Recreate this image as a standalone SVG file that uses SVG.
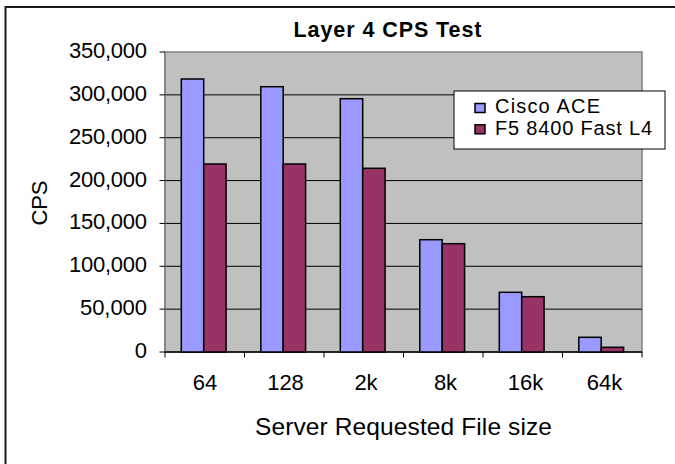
<svg xmlns="http://www.w3.org/2000/svg" width="675" height="464" viewBox="0 0 675 464">
<style>
text{font-family:"Liberation Sans",Arial,sans-serif;fill:#000}
.yl{font-size:22px;text-anchor:end}
.xl{font-size:22px;text-anchor:middle}
.grid{stroke:#000;stroke-width:1}
.tick{stroke:#000;stroke-width:1}
.b1{fill:#9999FF;stroke:#000;stroke-width:1.5}
.b2{fill:#993366;stroke:#000;stroke-width:1.5}
</style>
<rect x="0" y="0" width="675" height="464" fill="#fff"/>
<rect x="5.5" y="7" width="680" height="470" fill="#fff" stroke="#1a1a1a" stroke-width="2"/>
<g id="title"><text x="387.5" y="36.5" font-size="21.5" font-weight="bold" text-anchor="middle" textLength="188" lengthAdjust="spacing">Layer 4 CPS Test</text></g>
<g id="plot">
<rect x="165" y="52" width="477" height="300" fill="#C0C0C0" stroke="#808080" stroke-width="1.5"/>
<g class="grid">
<line x1="165" y1="94.86" x2="642" y2="94.86"/>
<line x1="165" y1="137.71" x2="642" y2="137.71"/>
<line x1="165" y1="180.57" x2="642" y2="180.57"/>
<line x1="165" y1="223.43" x2="642" y2="223.43"/>
<line x1="165" y1="266.29" x2="642" y2="266.29"/>
<line x1="165" y1="309.14" x2="642" y2="309.14"/>
</g>
</g>
<g id="axes">
<line x1="165" y1="52" x2="165" y2="352" stroke="#808080" stroke-width="1.5"/>
<line x1="165" y1="352" x2="642" y2="352" stroke="#000" stroke-width="1.5"/>
<g class="tick">
<line x1="159.5" y1="52" x2="165" y2="52"/>
<line x1="159.5" y1="94.86" x2="165" y2="94.86"/>
<line x1="159.5" y1="137.71" x2="165" y2="137.71"/>
<line x1="159.5" y1="180.57" x2="165" y2="180.57"/>
<line x1="159.5" y1="223.43" x2="165" y2="223.43"/>
<line x1="159.5" y1="266.29" x2="165" y2="266.29"/>
<line x1="159.5" y1="309.14" x2="165" y2="309.14"/>
<line x1="159.5" y1="352" x2="165" y2="352"/>
<line x1="165" y1="352" x2="165" y2="357.5"/>
<line x1="244.5" y1="352" x2="244.5" y2="357.5"/>
<line x1="324" y1="352" x2="324" y2="357.5"/>
<line x1="403.5" y1="352" x2="403.5" y2="357.5"/>
<line x1="483" y1="352" x2="483" y2="357.5"/>
<line x1="562.5" y1="352" x2="562.5" y2="357.5"/>
<line x1="642" y1="352" x2="642" y2="357.5"/>
</g>
<text class="yl" x="147" y="58" textLength="78" lengthAdjust="spacing">350,000</text>
<text class="yl" x="147" y="100.9" textLength="78" lengthAdjust="spacing">300,000</text>
<text class="yl" x="147" y="143.7" textLength="78" lengthAdjust="spacing">250,000</text>
<text class="yl" x="147" y="186.6" textLength="78" lengthAdjust="spacing">200,000</text>
<text class="yl" x="147" y="229.4" textLength="78" lengthAdjust="spacing">150,000</text>
<text class="yl" x="147" y="272.3" textLength="78" lengthAdjust="spacing">100,000</text>
<text class="yl" x="147" y="315.1" textLength="67" lengthAdjust="spacing">50,000</text>
<text class="yl" x="147" y="358">0</text>
<text class="xl" x="205" y="390">64</text>
<text class="xl" x="285.5" y="390">128</text>
<text class="xl" x="366" y="390">2k</text>
<text class="xl" x="445.5" y="390">8k</text>
<text class="xl" x="525.5" y="390">16k</text>
<text class="xl" x="604.5" y="390">64k</text>
<text x="403.5" y="435" font-size="24.5" text-anchor="middle" textLength="297" lengthAdjust="spacing">Server Requested File size</text>
<text transform="translate(46.5,203) rotate(-90)" font-size="22" text-anchor="middle" textLength="45" lengthAdjust="spacing">CPS</text>
</g>
<g id="series-cisco">
<rect class="b1" x="181.3" y="79" width="22.4" height="273"/>
<rect class="b1" x="260.8" y="86.7" width="22.4" height="265.3"/>
<rect class="b1" x="340.3" y="98.7" width="22.4" height="253.3"/>
<rect class="b1" x="419.8" y="239.7" width="22.4" height="112.3"/>
<rect class="b1" x="499.3" y="292.3" width="22.4" height="59.7"/>
<rect class="b1" x="578.8" y="337.3" width="22.4" height="14.7"/>
</g>
<g id="series-f5">
<rect class="b2" x="203.7" y="164" width="22.4" height="188"/>
<rect class="b2" x="283.2" y="164" width="22.4" height="188"/>
<rect class="b2" x="362.7" y="168.3" width="22.4" height="183.7"/>
<rect class="b2" x="442.2" y="243.7" width="22.4" height="108.3"/>
<rect class="b2" x="521.7" y="296.7" width="22.4" height="55.3"/>
<rect class="b2" x="601.2" y="347.3" width="22.4" height="4.7"/>
</g>
<g id="legend">
<rect x="454" y="91" width="211" height="58" fill="#fff" stroke="#000" stroke-width="1"/>
<rect class="b1" x="475" y="103.5" width="10" height="9" stroke-width="1.2"/>
<rect class="b2" x="475" y="124.8" width="10" height="9" stroke-width="1.2"/>
<text x="495" y="112.5" font-size="20" textLength="105" lengthAdjust="spacing">Cisco ACE</text>
<text x="495" y="134.5" font-size="20" textLength="157" lengthAdjust="spacing">F5 8400 Fast L4</text>
</g>
</svg>
